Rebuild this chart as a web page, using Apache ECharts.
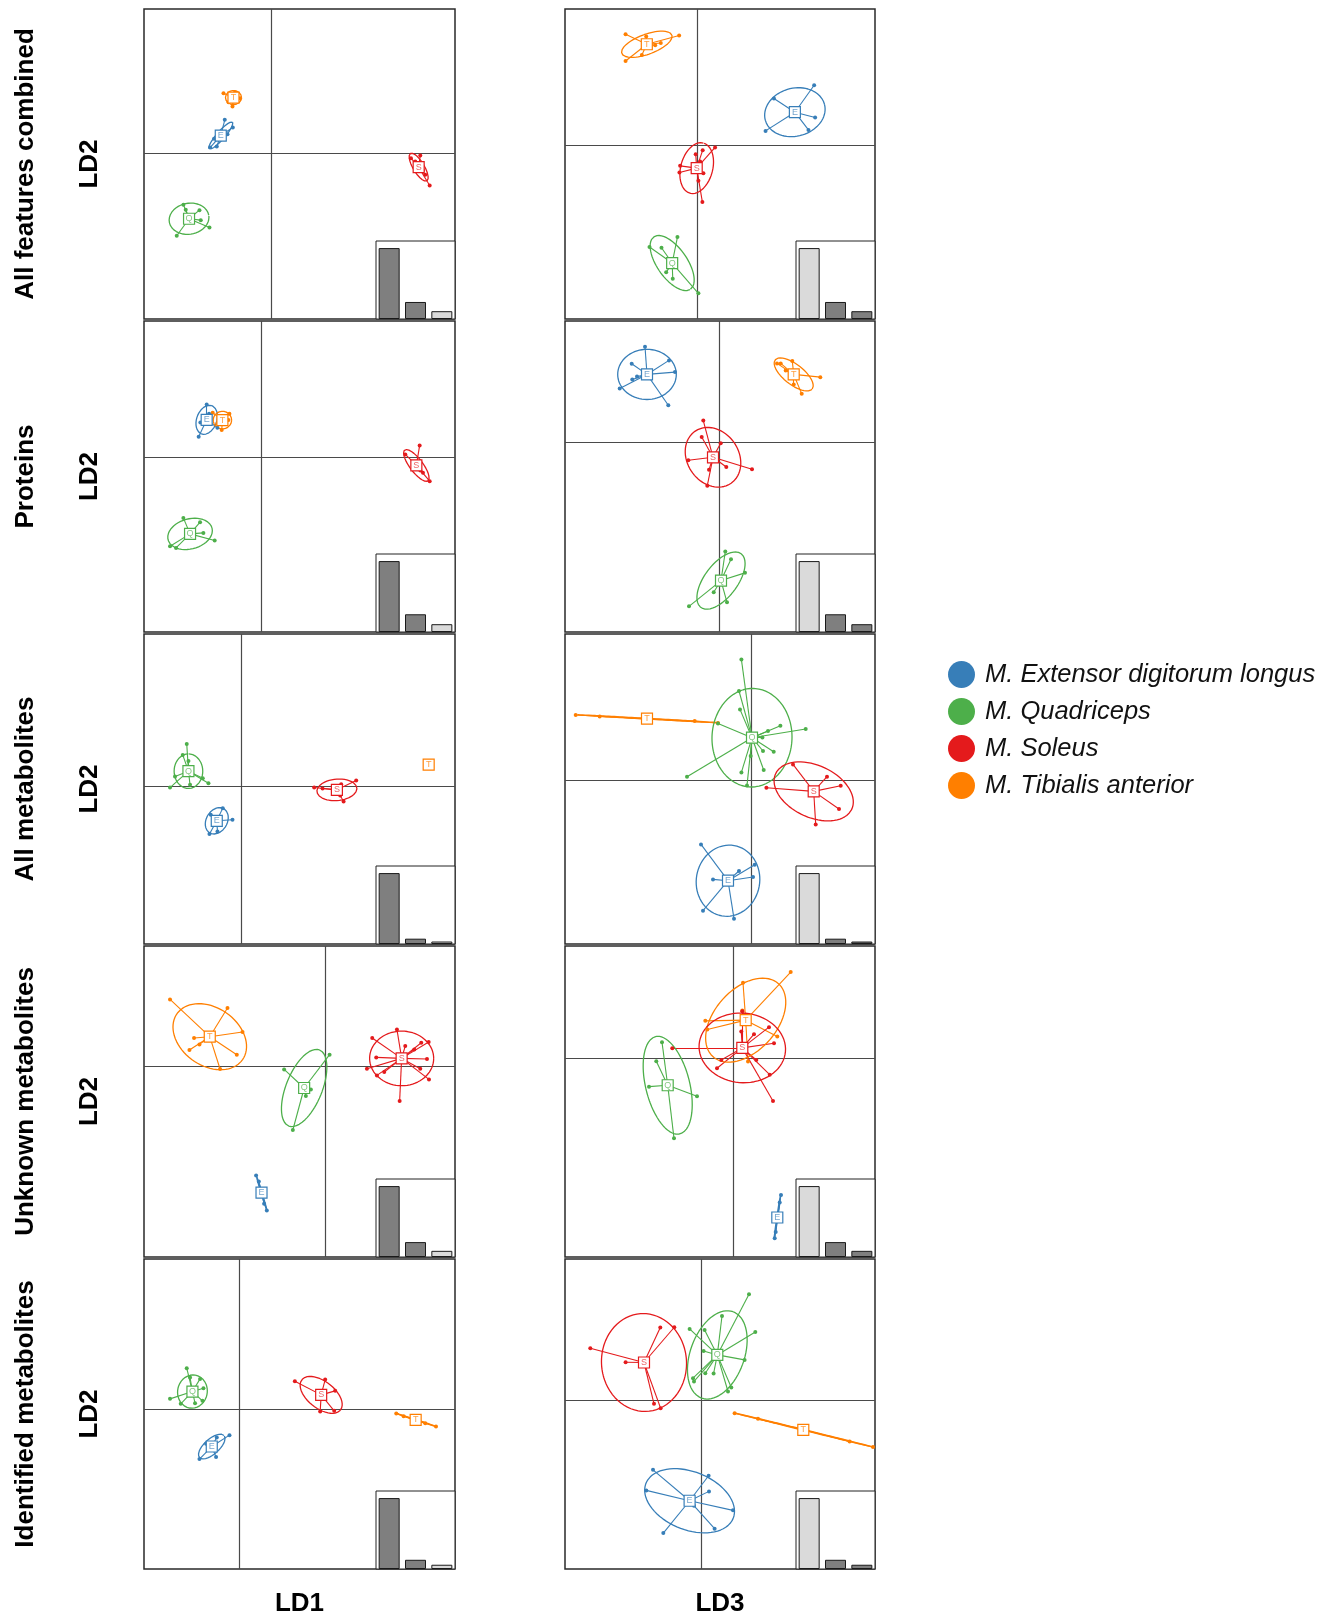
<!DOCTYPE html>
<html>
<head>
<meta charset="utf-8">
<script src="https://cdn.jsdelivr.net/npm/echarts@6/dist/echarts.min.js"></script>
<style>
  html, body { margin: 0; padding: 0; background: #fff; }
  #chart { width: 1336px; height: 1618px; }
</style>
</head>
<body>
<div id="chart"></div>
<script>
// ---- labels ----
const rowTitles = ['All features combined', 'Proteins', 'All metabolites', 'Unknown metabolites', 'Identified metabolites'];
const columnAxisTitles = ['LD1', 'LD3'];
const sharedAxisTitle = 'LD2';
const groupCodes = ['E', 'Q', 'S', 'T'];
const groupNames = ['M. Extensor digitorum longus', 'M. Quadriceps', 'M. Soleus', 'M. Tibialis anterior'];

// ---- eigenvalues (relative to LD1) for each feature set ----
const eigenvalues = [
  [1, 0.24, 0.11],
  [1, 0.25, 0.11],
  [1, 0.075, 0.035],
  [1, 0.21, 0.087],
  [1, 0.13, 0.06]
];
// discriminant axes drawn in each column (x axis, y axis)
const columnAxes = [[0, 1], [2, 1]];

// ---- visible score window per panel: [xmin, xmax, ymin, ymax] ----
const viewRanges = [
  [-12.67, 18.4, -16.57, 14.47],
  [-13.27, 17.8, -17.4, 13.63],
  [-11.73, 19.33, -17.47, 13.6],
  [-15.4, 15.6, -18.93, 12.1],
  [-9.67, 21.4, -15.83, 15.2],
  [-18.67, 12.33, -16.33, 14.67],
  [-18.07, 13.0, -19.03, 12.07],
  [-16.8, 14.2, -19.87, 11.17],
  [-9.47, 21.6, -16.03, 15.0],
  [-13.63, 17.37, -16.9, 14.13]
];

// ---- discriminant scores per group: [code, centroid, [semi-major, semi-minor, angle deg], samples] ----
const allFeaturesLD1 = [
  ['T', [-3.73, 5.6], [0.8, 0.7, 0], [[-4.73, 6.03], [-3.83, 4.7], [-3.07, 5.53], [-4.23, 5.13], [-3.57, 6.13]]],
  ['E', [-5.0, 1.8], [1.77, 0.4, 49], [[-4.6, 3.37], [-3.8, 2.6], [-6.07, 0.6], [-5.4, 0.7], [-4.33, 1.93], [-5.67, 1.47]]],
  ['S', [14.77, -1.37], [1.6, 0.55, -59], [[14.93, -0.2], [15.87, -3.2], [14.0, -0.47], [15.43, -2.13], [15.2, -1.7], [14.43, -0.8]]],
  ['Q', [-8.17, -6.53], [2.0, 1.55, 10], [[-8.73, -5.13], [-7.13, -5.67], [-7.0, -6.67], [-6.13, -7.4], [-9.4, -8.23], [-8.5, -5.63]]]
];
const allFeaturesLD3 = [
  ['T', [-5.07, 10.1], [2.67, 1.0, 20], [[-7.2, 11.1], [-1.83, 10.97], [-7.2, 8.43], [-5.57, 9.03], [-5.13, 10.87], [-3.67, 10.23], [-4.23, 10.0]]],
  ['E', [9.77, 3.3], [3.07, 2.4, 15], [[11.7, 6.0], [11.8, 2.77], [11.13, 1.53], [6.83, 1.43], [7.67, 4.67]]],
  ['S', [-0.07, -2.3], [2.6, 1.6, 75], [[1.77, -0.23], [0.53, -0.5], [-0.17, -0.9], [-1.73, -2.07], [-1.8, -2.73], [0.6, -2.8], [0.1, -3.57], [0.5, -5.7], [0.27, -1.63]]],
  ['Q', [-2.53, -11.8], [3.2, 1.5, -55], [[-4.8, -10.2], [-3.6, -10.27], [-2.0, -9.2], [0.1, -14.83], [-2.47, -13.37], [-3.13, -12.73]]]
];
const proteinsLD1 = [
  ['E', [-5.47, 3.73], [1.5, 1.0, 70], [[-5.47, 5.27], [-6.27, 2.03], [-6.1, 3.47], [-4.4, 2.93], [-5.23, 4.33]]],
  ['T', [-3.9, 3.7], [0.92, 0.88, 0], [[-4.87, 4.43], [-3.2, 4.33], [-3.3, 3.7], [-3.97, 2.7], [-4.4, 3.33]]],
  ['S', [15.47, -0.83], [1.93, 0.65, -53], [[15.8, 1.17], [14.37, 0.27], [16.8, -2.4], [16.13, -1.57], [15.87, -1.33]]],
  ['Q', [-7.13, -7.67], [2.27, 1.5, 15], [[-7.8, -6.07], [-6.13, -6.5], [-5.8, -7.57], [-4.67, -8.33], [-9.13, -8.9], [-8.53, -9.07]]]
];
const proteinsLD3 = [
  ['E', [-7.2, 6.77], [2.93, 2.5, 0], [[-7.4, 9.53], [-8.73, 7.83], [-8.67, 6.27], [-8.2, 6.57], [-9.93, 5.37], [-5.07, 3.7], [-4.4, 7.0], [-5.0, 8.17]]],
  ['T', [7.47, 6.77], [2.35, 1.0, -38], [[5.8, 7.87], [6.17, 7.87], [7.33, 8.1], [10.13, 6.5], [8.27, 4.83], [7.47, 5.77], [6.67, 7.17]]],
  ['S', [-0.6, -1.5], [3.16, 2.57, -55], [[-1.57, 2.17], [-1.73, 0.53], [0.17, -0.1], [-3.07, -1.8], [-1.0, -2.73], [-1.17, -4.33], [0.73, -2.47], [3.3, -2.7]]],
  ['Q', [0.2, -13.8], [3.35, 1.65, 53], [[0.63, -10.9], [1.2, -11.67], [2.6, -13.03], [0.8, -15.97], [-0.53, -14.97], [-3.0, -16.37]]]
];
const allMetabolitesLD1 = [
  ['Q', [-5.23, 1.47], [1.73, 1.43, 90], [[-5.4, 4.2], [-5.8, 3.1], [-5.23, 2.5], [-6.57, 0.93], [-7.07, -0.17], [-5.07, 0.1], [-3.23, 0.27], [-3.8, 0.77]]],
  ['E', [-2.4, -3.5], [1.4, 1.05, 60], [[-1.8, -2.23], [-3.0, -2.9], [-0.83, -3.4], [-3.13, -4.83], [-2.33, -4.57]]],
  ['S', [9.6, -0.4], [2.0, 1.07, 5], [[7.33, -0.17], [8.17, -0.27], [10.03, 0.17], [11.53, 0.53], [9.93, -0.97], [10.27, -1.57]]],
  ['T', [18.77, 2.13], [0, 0, 0], []]
];
const allMetabolitesLD3 = [
  ['T', [-10.47, 6.2], [7.12, 0.04, -3.2], [[-17.6, 6.57], [-15.2, 6.43], [-5.7, 5.97], [-3.37, 5.77]]],
  ['Q', [0.03, 4.3], [4.93, 4.0, 88], [[-1.03, 12.13], [-1.27, 8.97], [-1.17, 7.13], [2.87, 5.5], [5.4, 5.17], [1.63, 4.97], [1.07, 4.33], [1.13, 2.97], [2.2, 2.9], [1.2, 1.07], [-1.03, 0.83], [-0.47, -0.47], [-6.47, 0.4], [-3.37, 5.73], [-0.1, 2.47]]],
  ['S', [6.2, -1.07], [4.2, 2.6, -25], [[4.13, 1.63], [7.53, 0.4], [8.9, -0.5], [8.73, -2.83], [6.4, -4.37], [1.47, -0.7]]],
  ['E', [-2.37, -10.0], [3.57, 3.17, 80], [[-5.07, -6.37], [-3.87, -9.87], [-1.27, -9.03], [0.3, -8.4], [0.13, -9.63], [-4.87, -13.0], [-1.77, -13.8]]]
];
const unknownMetabolitesLD1 = [
  ['T', [-11.5, 3.0], [4.0, 2.9, -35], [[-15.47, 6.73], [-9.73, 5.87], [-8.23, 3.47], [-8.8, 1.2], [-10.47, -0.23], [-13.53, 1.67], [-13.07, 2.87], [-12.53, 2.23]]],
  ['Q', [-2.07, -2.13], [4.1, 1.8, 68], [[-4.07, -0.27], [0.47, 1.2], [-3.2, -6.33], [-1.9, -2.93], [-1.4, -2.27]]],
  ['S', [7.67, 0.83], [3.2, 2.73, 0], [[7.2, 3.73], [4.73, 2.87], [5.13, 0.93], [4.2, -0.2], [5.2, -0.87], [5.93, -0.53], [7.47, -3.43], [10.4, -1.27], [9.53, -0.2], [10.2, 0.77], [10.37, 2.47], [9.63, 2.4], [8.03, 2.07], [8.93, 1.73]]],
  ['E', [-6.33, -12.6], [1.83, 0.05, -73], [[-6.87, -10.87], [-6.6, -11.47], [-6.07, -13.7], [-5.8, -14.37]]]
];
const unknownMetabolitesLD3 = [
  ['T', [1.27, 3.77], [4.9, 3.1, 48], [[5.77, 8.57], [1.0, 7.5], [0.93, 4.73], [-2.77, 3.7], [-2.57, 2.83], [4.43, 2.13], [1.5, -0.37]]],
  ['S', [0.93, 1.0], [4.33, 3.47, -5], [[-6.07, 0.97], [0.83, 2.63], [2.1, 2.37], [3.6, 3.07], [4.1, 1.47], [3.67, -1.67], [4.0, -4.3], [2.33, -0.2], [-1.6, -1.03], [-1.17, -0.2], [0.93, 4.67]]],
  ['Q', [-6.53, -2.73], [5.0, 2.2, 104], [[-7.1, 1.57], [-7.67, -0.33], [-8.4, -2.87], [-3.6, -3.83], [-5.9, -8.03]]],
  ['E', [4.43, -15.93], [2.2, 0.05, 81.7], [[4.8, -13.67], [4.67, -14.43], [4.27, -17.37], [4.17, -18.0]]]
];
const identifiedMetabolitesLD1 = [
  ['Q', [-4.63, 1.73], [1.67, 1.48, 80], [[-5.2, 4.07], [-4.87, 3.13], [-3.87, 3.0], [-6.87, 1.0], [-5.8, 0.5], [-4.37, 0.57], [-3.63, 0.8], [-3.53, 2.07]]],
  ['E', [-2.7, -3.77], [1.65, 0.75, 42], [[-0.93, -2.63], [-2.2, -2.87], [-3.93, -5.03], [-2.27, -4.83], [-3.27, -3.5]]],
  ['S', [8.23, 1.4], [2.45, 1.35, -38], [[5.6, 2.77], [8.63, 2.93], [9.63, 1.8], [9.53, -0.2], [8.13, -0.27]]],
  ['T', [17.67, -1.1], [2.08, 0.04, -18.1], [[15.73, -0.47], [16.47, -0.73], [18.63, -1.43], [19.7, -1.77]]]
];
const identifiedMetabolitesLD3 = [
  ['S', [-5.73, 3.77], [4.9, 4.25, 94], [[-11.1, 5.2], [-7.57, 3.8], [-4.1, 7.27], [-2.7, 7.3], [-4.73, -0.37], [-4.07, -0.8]]],
  ['Q', [1.6, 4.53], [4.6, 2.7, 70], [[4.77, 10.6], [2.07, 8.43], [0.33, 7.03], [-1.17, 7.13], [5.4, 6.83], [0.23, 4.93], [4.33, 4.03], [1.23, 2.67], [0.4, 2.7], [-0.83, 2.2], [-0.73, 1.87], [2.67, 0.87], [3.0, 1.27]]],
  ['T', [10.2, -2.97], [7.1, 0.04, -13.8], [[3.33, -1.3], [5.67, -1.87], [14.83, -4.13], [17.17, -4.7]]],
  ['E', [-1.17, -10.07], [4.7, 2.9, -22], [[-4.83, -6.97], [-5.5, -9.03], [0.73, -7.57], [0.77, -9.13], [3.17, -11.03], [1.33, -12.87], [-0.73, -10.57], [-3.8, -13.3]]]
];

const panelScores = [
  allFeaturesLD1, allFeaturesLD3,
  proteinsLD1, proteinsLD3,
  allMetabolitesLD1, allMetabolitesLD3,
  unknownMetabolitesLD1, unknownMetabolitesLD3,
  identifiedMetabolitesLD1, identifiedMetabolitesLD3
];

// ---- styling & layout ----
const groupColors = { E: '#377EB8', Q: '#4DAF4A', S: '#E41A1C', T: '#FF7F00' };
const labelColors = { E: 'rgba(55,126,184,0.7)', Q: 'rgba(77,175,74,0.7)', S: 'rgba(228,26,28,0.7)', T: 'rgba(255,127,0,0.75)' };
const colLeft = [144, 565];
const colWidth = [311, 310];
const rowTop = [9, 321, 634, 946, 1259];
const rowHeight = [310, 311, 310, 311, 310];
const insetW = 79, insetH = 78;
const barDark = '#7f7f7f', barLight = '#dadada';
const FONT = '"Liberation Sans", Arial, Helvetica, sans-serif';

function ellipsePath(c, e) {
  const a = e[0], b = e[1], th = e[2] * Math.PI / 180;
  const out = [];
  const n = 144;
  for (let k = 0; k <= n; k++) {
    const t = k / n * 2 * Math.PI;
    out.push([
      c[0] + a * Math.cos(th) * Math.cos(t) - b * Math.sin(th) * Math.sin(t),
      c[1] + a * Math.sin(th) * Math.cos(t) + b * Math.cos(th) * Math.sin(t)
    ]);
  }
  return out;
}

const grid = [], xAxis = [], yAxis = [], series = [];
const nPanels = panelScores.length;

for (let p = 0; p < nPanels; p++) {
  const row = Math.floor(p / 2), col = p % 2;
  const r = viewRanges[p];
  grid.push({
    left: colLeft[col], top: rowTop[row], width: colWidth[col], height: rowHeight[row],
    show: true, borderColor: '#2a2a2a', borderWidth: 1.5, backgroundColor: 'transparent', containLabel: false
  });
  xAxis.push({ type: 'value', gridIndex: p, min: r[0], max: r[1], show: false });
  yAxis.push({ type: 'value', gridIndex: p, min: r[2], max: r[3], show: false });

  // origin cross
  series.push({
    type: 'lines', coordinateSystem: 'cartesian2d', xAxisIndex: p, yAxisIndex: p, silent: true, z: 1,
    lineStyle: { color: '#4a4a4a', width: 1.2, opacity: 1 },
    data: [{ coords: [[0, r[2]], [0, r[3]]] }, { coords: [[r[0], 0], [r[1], 0]] }]
  });

  panelScores[p].forEach(function (g) {
    const code = g[0], c = g[1], e = g[2], pts = g[3];
    const color = groupColors[code];
    const name = groupNames[groupCodes.indexOf(code)];
    if (e[0] > 0) {
      series.push({
        type: 'line', xAxisIndex: p, yAxisIndex: p, data: ellipsePath(c, e), symbol: 'none', showSymbol: false,
        smooth: false, silent: true, z: 2, clip: true,
        lineStyle: { color: color, width: 1.3 }
      });
    }
    series.push({
      type: 'lines', coordinateSystem: 'cartesian2d', xAxisIndex: p, yAxisIndex: p, silent: true, z: 2,
      lineStyle: { color: color, width: 1.1, opacity: 1 },
      data: pts.map(function (pt) { return { coords: [c, pt] }; })
    });
    series.push({
      type: 'scatter', name: name, xAxisIndex: p, yAxisIndex: p, data: pts, symbol: 'circle', symbolSize: 4,
      silent: true, z: 3, itemStyle: { color: color, opacity: 1 }
    });
    series.push({
      type: 'scatter', xAxisIndex: p, yAxisIndex: p, data: [c], symbol: 'rect', symbolSize: 11,
      silent: true, z: 4,
      itemStyle: { color: '#ffffff', borderColor: color, borderWidth: 1.2, opacity: 1 },
      label: { show: true, position: 'inside', formatter: code, color: labelColors[code], fontSize: 9, fontFamily: FONT }
    });
  });
}

// eigenvalue bar insets
for (let p = 0; p < nPanels; p++) {
  const row = Math.floor(p / 2), col = p % 2;
  const gi = nPanels + p;
  grid.push({
    left: colLeft[col] + colWidth[col] - insetW, top: rowTop[row] + rowHeight[row] - insetH,
    width: insetW, height: insetH, show: true, borderColor: '#222', borderWidth: 1, backgroundColor: '#fff', z: 5
  });
  xAxis.push({ type: 'category', gridIndex: gi, data: ['1', '2', '3'], show: false, boundaryGap: true });
  yAxis.push({ type: 'value', gridIndex: gi, min: 0, max: 1.1, show: false });
  const shown = columnAxes[col];
  series.push({
    type: 'bar', xAxisIndex: gi, yAxisIndex: gi, barWidth: 21, silent: true, z: 6,
    data: eigenvalues[row].map(function (v, i) {
      return { value: v, itemStyle: { color: shown.indexOf(i) >= 0 ? barDark : barLight, borderColor: '#1a1a1a', borderWidth: 1 } };
    })
  });
}

// titles
const graphic = [];
for (let row = 0; row < rowTitles.length; row++) {
  const cy = rowTop[row] + rowHeight[row] / 2;
  graphic.push({
    type: 'text', x: 26, y: cy, rotation: Math.PI / 2,
    style: { text: rowTitles[row], font: 'bold 26px ' + FONT, fill: '#000', align: 'center', verticalAlign: 'middle', textAlign: 'center', textVerticalAlign: 'middle' }
  });
  graphic.push({
    type: 'text', x: 90, y: cy, rotation: Math.PI / 2,
    style: { text: sharedAxisTitle, font: 'bold 26px ' + FONT, fill: '#000', align: 'center', verticalAlign: 'middle', textAlign: 'center', textVerticalAlign: 'middle' }
  });
}
for (let col = 0; col < 2; col++) {
  graphic.push({
    type: 'text', x: colLeft[col] + colWidth[col] / 2, y: 1604,
    style: { text: columnAxisTitles[col], font: 'bold 26px ' + FONT, fill: '#000', align: 'center', verticalAlign: 'middle', textAlign: 'center', textVerticalAlign: 'middle' }
  });
}

const chart = echarts.init(document.getElementById('chart'), null, { renderer: 'canvas', width: 1336, height: 1618 });
chart.setOption({
  backgroundColor: '#ffffff',
  animation: false,
  grid: grid,
  xAxis: xAxis,
  yAxis: yAxis,
  series: series,
  graphic: graphic,
  legend: {
    data: groupNames,
    orient: 'vertical',
    left: 943, top: 656,
    icon: 'circle',
    itemWidth: 27, itemHeight: 27, itemGap: 10,
    selectedMode: false,
    itemStyle: { opacity: 1 },
    textStyle: { fontSize: 25.5, fontStyle: 'italic', fontFamily: FONT, color: '#111', padding: [0, 0, 0, 5] }
  }
});
</script>
</body>
</html>
